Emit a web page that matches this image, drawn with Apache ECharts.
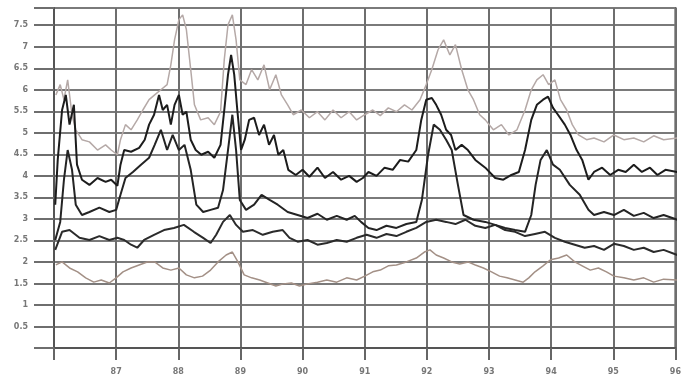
<!DOCTYPE html>
<html>
<head>
<meta charset="utf-8">
<script src="https://cdn.jsdelivr.net/npm/echarts@6/dist/echarts.min.js"></script>
<style>
  html, body { margin: 0; padding: 0; background: #fff; }
  #chart { width: 684px; height: 389px; }
</style>
</head>
<body>
<div id="chart"></div>
<script>
// values: [year, value]
const grayUpper = [
  [1986.03, 5.88], [1986.10, 6.12], [1986.16, 5.77], [1986.22, 6.23], [1986.29, 5.42], [1986.35, 5.07],
  [1986.45, 4.84], [1986.57, 4.79], [1986.70, 4.60], [1986.83, 4.72], [1986.92, 4.60], [1987.02, 4.49],
  [1987.07, 4.84], [1987.15, 5.19], [1987.24, 5.07], [1987.34, 5.30], [1987.43, 5.53], [1987.53, 5.77],
  [1987.62, 5.88], [1987.72, 6.00], [1987.82, 6.12], [1987.88, 6.58], [1987.94, 7.16], [1988.01, 7.63],
  [1988.07, 7.74], [1988.13, 7.40], [1988.20, 6.47], [1988.26, 5.65], [1988.36, 5.30], [1988.48, 5.35],
  [1988.58, 5.19], [1988.68, 5.49], [1988.74, 6.70], [1988.80, 7.51], [1988.87, 7.74], [1988.93, 7.16],
  [1988.99, 6.23], [1989.09, 6.12], [1989.18, 6.47], [1989.28, 6.23], [1989.38, 6.58], [1989.47, 6.00],
  [1989.57, 6.35], [1989.66, 5.88], [1989.76, 5.65], [1989.85, 5.42], [1989.98, 5.53], [1990.11, 5.35],
  [1990.24, 5.49], [1990.36, 5.30], [1990.49, 5.53], [1990.62, 5.35], [1990.75, 5.49], [1990.87, 5.30],
  [1991.00, 5.42], [1991.13, 5.53], [1991.25, 5.40], [1991.38, 5.58], [1991.51, 5.49], [1991.64, 5.65],
  [1991.76, 5.53], [1991.89, 5.77], [1991.99, 6.12], [1992.08, 6.47], [1992.18, 6.93], [1992.27, 7.16],
  [1992.37, 6.81], [1992.46, 7.05], [1992.56, 6.47], [1992.66, 6.00], [1992.75, 5.77], [1992.85, 5.42],
  [1992.94, 5.30], [1993.07, 5.07], [1993.20, 5.19], [1993.32, 4.95], [1993.45, 5.07], [1993.58, 5.53],
  [1993.68, 6.00], [1993.77, 6.23], [1993.87, 6.35], [1993.96, 6.12], [1994.06, 6.23], [1994.15, 5.77],
  [1994.25, 5.53], [1994.34, 5.19], [1994.44, 4.95], [1994.57, 4.84], [1994.69, 4.88], [1994.85, 4.79],
  [1995.01, 4.95], [1995.17, 4.84], [1995.33, 4.88], [1995.49, 4.79], [1995.65, 4.93], [1995.81, 4.84],
  [1996.03, 4.88]
];

const darkUpper = [
  [1986.02, 3.33], [1986.06, 4.37], [1986.13, 5.53], [1986.19, 5.88], [1986.25, 5.19], [1986.32, 5.65],
  [1986.37, 4.26], [1986.45, 3.91], [1986.57, 3.79], [1986.70, 3.95], [1986.83, 3.86], [1986.92, 3.91],
  [1987.02, 3.77], [1987.07, 4.26], [1987.13, 4.60], [1987.24, 4.56], [1987.37, 4.65], [1987.46, 4.84],
  [1987.53, 5.19], [1987.61, 5.42], [1987.69, 5.88], [1987.75, 5.53], [1987.82, 5.65], [1987.88, 5.19],
  [1987.94, 5.65], [1988.01, 5.88], [1988.07, 5.42], [1988.13, 5.49], [1988.20, 4.84], [1988.28, 4.60],
  [1988.37, 4.49], [1988.48, 4.56], [1988.58, 4.42], [1988.68, 4.72], [1988.74, 5.53], [1988.80, 6.35],
  [1988.85, 6.81], [1988.90, 6.35], [1988.95, 5.53], [1989.01, 4.60], [1989.07, 4.84], [1989.14, 5.30],
  [1989.22, 5.35], [1989.30, 4.95], [1989.38, 5.19], [1989.46, 4.72], [1989.54, 4.95], [1989.61, 4.49],
  [1989.69, 4.60], [1989.77, 4.14], [1989.89, 4.02], [1990.00, 4.14], [1990.11, 3.98], [1990.24, 4.19],
  [1990.36, 3.95], [1990.49, 4.09], [1990.62, 3.91], [1990.75, 4.00], [1990.87, 3.86], [1990.97, 3.95],
  [1991.06, 4.09], [1991.19, 4.00], [1991.32, 4.19], [1991.45, 4.14], [1991.57, 4.37], [1991.70, 4.33],
  [1991.83, 4.60], [1991.91, 5.30], [1991.99, 5.77], [1992.08, 5.81], [1992.15, 5.65], [1992.23, 5.42],
  [1992.31, 5.07], [1992.39, 4.95], [1992.46, 4.60], [1992.56, 4.72], [1992.66, 4.60], [1992.78, 4.37],
  [1992.94, 4.19], [1993.10, 3.95], [1993.23, 3.91], [1993.36, 4.02], [1993.48, 4.09], [1993.58, 4.60],
  [1993.68, 5.30], [1993.77, 5.65], [1993.87, 5.77], [1993.95, 5.84], [1994.03, 5.58], [1994.11, 5.42],
  [1994.22, 5.19], [1994.31, 4.95], [1994.41, 4.60], [1994.50, 4.37], [1994.60, 3.91], [1994.69, 4.09],
  [1994.82, 4.19], [1994.95, 4.02], [1995.08, 4.14], [1995.20, 4.09], [1995.33, 4.26], [1995.46, 4.09],
  [1995.59, 4.19], [1995.71, 4.02], [1995.84, 4.14], [1996.03, 4.09]
];

const darkMiddle = [
  [1986.02, 2.51], [1986.10, 2.93], [1986.16, 3.91], [1986.22, 4.60], [1986.29, 4.14], [1986.35, 3.33],
  [1986.45, 3.09], [1986.57, 3.16], [1986.73, 3.26], [1986.89, 3.16], [1987.00, 3.21], [1987.07, 3.56],
  [1987.15, 3.95], [1987.27, 4.09], [1987.40, 4.26], [1987.53, 4.42], [1987.62, 4.72], [1987.72, 5.07],
  [1987.82, 4.60], [1987.91, 4.95], [1988.01, 4.60], [1988.10, 4.72], [1988.20, 4.14], [1988.29, 3.33],
  [1988.40, 3.16], [1988.52, 3.21], [1988.64, 3.26], [1988.72, 3.67], [1988.80, 4.60], [1988.87, 5.42],
  [1988.93, 4.60], [1988.99, 3.44], [1989.09, 3.21], [1989.22, 3.33], [1989.34, 3.56], [1989.47, 3.44],
  [1989.60, 3.33], [1989.76, 3.16], [1989.92, 3.09], [1990.08, 3.02], [1990.24, 3.12], [1990.39, 2.98],
  [1990.55, 3.07], [1990.71, 2.98], [1990.84, 3.07], [1990.94, 2.93], [1991.06, 2.79], [1991.19, 2.74],
  [1991.35, 2.84], [1991.51, 2.79], [1991.67, 2.88], [1991.83, 2.93], [1991.92, 3.44], [1992.02, 4.49],
  [1992.11, 5.19], [1992.21, 5.07], [1992.31, 4.84], [1992.40, 4.60], [1992.50, 3.79], [1992.59, 3.09],
  [1992.75, 2.98], [1992.94, 2.93], [1993.10, 2.86], [1993.26, 2.79], [1993.42, 2.74], [1993.58, 2.70],
  [1993.68, 3.09], [1993.75, 3.79], [1993.83, 4.37], [1993.93, 4.60], [1994.03, 4.26], [1994.14, 4.14],
  [1994.30, 3.79], [1994.46, 3.56], [1994.60, 3.21], [1994.69, 3.09], [1994.85, 3.16], [1995.01, 3.09],
  [1995.17, 3.21], [1995.33, 3.07], [1995.49, 3.14], [1995.65, 3.02], [1995.81, 3.09], [1996.03, 2.98]
];

const darkLower = [
  [1986.02, 2.28], [1986.13, 2.70], [1986.25, 2.74], [1986.41, 2.56], [1986.57, 2.51], [1986.73, 2.60],
  [1986.89, 2.51], [1987.02, 2.56], [1987.13, 2.51], [1987.24, 2.40], [1987.34, 2.33], [1987.45, 2.51],
  [1987.61, 2.63], [1987.77, 2.74], [1987.93, 2.79], [1988.09, 2.86], [1988.25, 2.70], [1988.40, 2.56],
  [1988.52, 2.44], [1988.61, 2.63], [1988.72, 2.93], [1988.83, 3.09], [1988.93, 2.86], [1989.04, 2.70],
  [1989.20, 2.74], [1989.36, 2.63], [1989.52, 2.70], [1989.68, 2.74], [1989.79, 2.56], [1989.92, 2.47],
  [1990.08, 2.51], [1990.24, 2.40], [1990.39, 2.44], [1990.55, 2.51], [1990.71, 2.47], [1990.87, 2.56],
  [1991.03, 2.63], [1991.19, 2.56], [1991.35, 2.65], [1991.51, 2.60], [1991.67, 2.70], [1991.83, 2.79],
  [1991.99, 2.93], [1992.15, 2.98], [1992.31, 2.93], [1992.46, 2.88], [1992.62, 2.98], [1992.78, 2.84],
  [1992.94, 2.79], [1993.10, 2.86], [1993.26, 2.74], [1993.42, 2.70], [1993.58, 2.60], [1993.74, 2.65],
  [1993.90, 2.70], [1994.06, 2.56], [1994.22, 2.47], [1994.38, 2.40], [1994.54, 2.33], [1994.69, 2.37],
  [1994.85, 2.28], [1995.01, 2.42], [1995.17, 2.37], [1995.33, 2.28], [1995.49, 2.33], [1995.65, 2.23],
  [1995.81, 2.28], [1996.03, 2.16]
];

const grayLower = [
  [1986.03, 1.93], [1986.13, 2.00], [1986.25, 1.86], [1986.38, 1.77], [1986.51, 1.63], [1986.64, 1.53],
  [1986.76, 1.58], [1986.89, 1.51], [1987.00, 1.63], [1987.11, 1.77], [1987.24, 1.86], [1987.37, 1.93],
  [1987.50, 2.00], [1987.62, 2.00], [1987.75, 1.86], [1987.88, 1.81], [1988.01, 1.86], [1988.13, 1.70],
  [1988.26, 1.63], [1988.39, 1.67], [1988.52, 1.81], [1988.64, 2.00], [1988.77, 2.16], [1988.87, 2.23],
  [1988.96, 2.00], [1989.06, 1.70], [1989.18, 1.63], [1989.31, 1.58], [1989.44, 1.51], [1989.57, 1.44],
  [1989.69, 1.49], [1989.82, 1.51], [1989.95, 1.44], [1990.08, 1.49], [1990.24, 1.53], [1990.39, 1.58],
  [1990.55, 1.53], [1990.71, 1.63], [1990.87, 1.58], [1991.00, 1.67], [1991.13, 1.77], [1991.25, 1.81],
  [1991.38, 1.91], [1991.51, 1.93], [1991.67, 2.00], [1991.83, 2.09], [1991.96, 2.23], [1992.05, 2.28],
  [1992.15, 2.16], [1992.27, 2.09], [1992.40, 2.00], [1992.53, 1.95], [1992.66, 2.00], [1992.78, 1.93],
  [1992.91, 1.86], [1993.04, 1.77], [1993.17, 1.67], [1993.29, 1.63], [1993.42, 1.58], [1993.55, 1.53],
  [1993.64, 1.63], [1993.74, 1.77], [1993.87, 1.91], [1993.99, 2.05], [1994.12, 2.09], [1994.25, 2.16],
  [1994.38, 2.00], [1994.50, 1.91], [1994.63, 1.81], [1994.76, 1.86], [1994.89, 1.77], [1995.01, 1.67],
  [1995.17, 1.63], [1995.33, 1.58], [1995.49, 1.63], [1995.65, 1.53], [1995.81, 1.60], [1996.03, 1.58]
];

const chart = echarts.init(document.getElementById("chart"));

const lineSeries = (data, color, width) => ({
  type: "line",
  data: data,
  showSymbol: false,
  animation: false,
  lineStyle: { color: color, width: width },
});

const option = {
  backgroundColor: "#fff",
  animation: false,
  grid: {
    left: 54,
    right: 2,
    top: 8,
    bottom: 41,
    show: true,
    borderColor: "#555",
    borderWidth: 2,
  },
  xAxis: {
    type: "value",
    min: 1986,
    max: 1996,
    interval: 1,
    axisLine: { show: true, lineStyle: { color: "#555", width: 2 } },
    axisTick: { show: true, length: 12, lineStyle: { color: "#666", width: 2 } },
    axisLabel: {
      margin: 20,
      color: "#777",
      fontSize: 8,
      fontWeight: "bold",
      fontFamily: "DejaVu Sans",
      formatter: (v) => (v === 1986 ? "" : String(v).slice(2)),
    },
    splitLine: { show: true, lineStyle: { color: "#6e6e6e", width: 2 } },
  },
  yAxis: {
    type: "value",
    min: 0,
    max: 7.9,
    interval: 0.5,
    axisLine: { show: true, lineStyle: { color: "#555", width: 2 } },
    axisTick: { show: true, length: 20, lineStyle: { color: "#6e6e6e", width: 2 } },
    axisLabel: {
      margin: 26,
      color: "#777",
      fontSize: 8,
      fontWeight: "bold",
      fontFamily: "DejaVu Sans",
      formatter: (v) => (v === 0 || v > 7.5 ? "" : String(v)),
    },
    splitLine: { show: true, lineStyle: { color: "#7a7a7a", width: 2 } },
  },
  series: [
    lineSeries(grayUpper, "#b5a9a7", 1.5),
    lineSeries(grayLower, "#a39086", 1.5),
    lineSeries(darkLower, "#2b2b2b", 2),
    lineSeries(darkMiddle, "#242424", 2),
    lineSeries(darkUpper, "#1c1c1c", 2),
  ],
};

chart.setOption(option);
</script>
</body>
</html>
